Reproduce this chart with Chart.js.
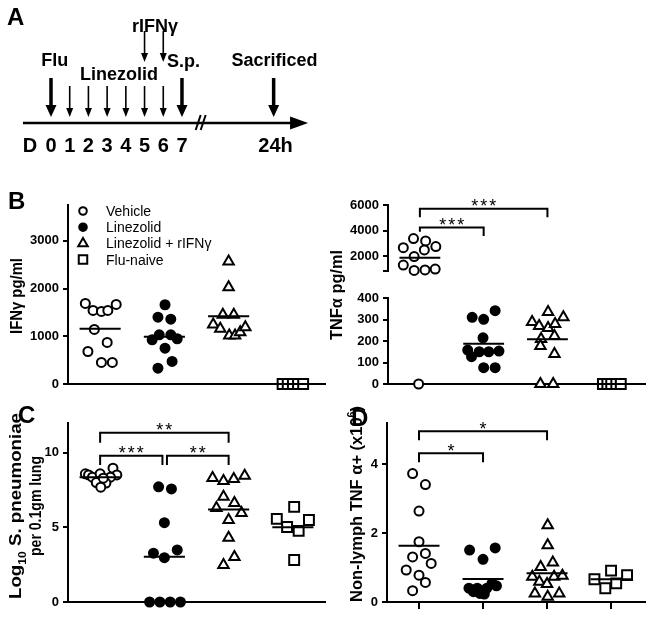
<!DOCTYPE html>
<html>
<head>
<meta charset="utf-8">
<script src="https://cdn.jsdelivr.net/npm/chart.js"></script>
<style>
  html, body { margin: 0; padding: 0; background: #fff; }
  #fig { position: relative; width: 649px; height: 617px; overflow: hidden; }
  #fig canvas { position: absolute; }
  .tag { position: absolute; font: bold 24px "Liberation Sans", Arial, sans-serif; line-height: 24px; color: #000; }
</style>
</head>
<body>
<div id="fig">
  <canvas id="panelA" width="330" height="175" style="left:0;top:0"></canvas>
  <canvas id="ifn" width="330" height="215" style="left:0;top:185px"></canvas>
  <canvas id="tnfTop" width="329" height="110" style="left:320px;top:185px"></canvas>
  <canvas id="tnfBottom" width="329" height="160" style="left:320px;top:240px"></canvas>
  <canvas id="cfu" width="330" height="217" style="left:0;top:400px"></canvas>
  <canvas id="nonLymph" width="329" height="217" style="left:320px;top:400px"></canvas>
  <div class="tag" style="left:7px;top:5px">A</div>
  <div class="tag" style="left:8px;top:189px">B</div>
  <div class="tag" style="left:18px;top:403px">C</div>
  <div class="tag" style="left:351px;top:406px">D</div>
</div>
<script>
const FAMILY = '"Liberation Sans", Arial, sans-serif'
const groups = ['Vehicle', 'Linezolid', 'Linezolid + rIFNγ', 'Flu-naive']

// A: timeline (days)
const dayTicks = [0, 1, 2, 3, 4, 5, 6, 7]
const fluDay = 0
const linezolidDays = [1, 2, 3, 4, 5, 6]
const rifnDays = [5, 6]
const spDay = 7
const sacrificeDay = 11.9
const breakDay = 8

// B: IFNγ pg/ml
const ifnVehicle = [1688, 1541, 1520, 1541, 1667, 1143, 870, 681, 451, 451]
const ifnLinezolid = [1660, 1400, 1358, 927, 1031, 1031, 948, 751, 472, 331]
const ifnLzdIfn = [2568, 2029, 1451, 1451, 1247, 1157, 1017, 1017, 1086, 1191]
const ifnNaive = [0, 0, 0, 0, 0]
const ifnTicks = [0, 1000, 2000, 3000]

// B: TNFα pg/ml (broken axis)
const tnfVehicle = [3380, 3200, 2667, 2760, 2493, 1980, 1313, 893, 933, 1000, 0]
const tnfLinezolid = [310, 301, 341, 215, 158, 127, 150, 150, 153, 76, 76]
const tnfLzdIfn = [335, 288, 310, 270, 260, 279, 223, 209, 177, 140, 0, 0]
const tnfNaive = [0, 0, 0, 0, 0]
const tnfTopTicks = [850, 2000, 4000, 6000]
const tnfBottomTicks = [0, 100, 200, 300, 400]

// C: Log10 S. pneumoniae per 0.1gm lung
const cfuVehicle = [8.59, 8.52, 8.37, 8.59, 8.97, 8.52, 8.37, 8.01, 7.97, 7.70, 8.30]
const cfuLinezolid = [7.72, 7.58, 5.32, 3.27, 2.97, 3.49, 0, 0, 0, 0]
const cfuLzdIfn = [8.32, 8.12, 8.25, 8.46, 7.05, 6.64, 6.31, 5.97, 5.50, 4.30, 3.02, 2.48]
const cfuNaive = [6.38, 5.57, 5.03, 4.77, 5.50, 2.82]
const cfuTicks = [0, 5, 10]

// D: Non-lymph TNFα+ (x10^6)
const nlVehicle = [3.73, 3.41, 2.64, 1.75, 1.31, 1.41, 1.12, 0.93, 0.78, 0.57, 0.33]
const nlLinezolid = [1.51, 1.57, 1.24, 0.40, 0.30, 0.25, 0.40, 0.54, 0.47, 0.23, 0.40]
const nlLzdIfn = [2.23, 1.65, 1.15, 1.02, 0.73, 0.73, 0.76, 0.59, 0.52, 0.25, 0.15, 0.25]
const nlNaive = [0.91, 0.66, 0.78, 0.54, 0.40]
const nlTicks = [0, 2, 4]

// horizontal scatter of the dots inside each group (fraction of a group slot)
const ifnVehicleJit = [-0.23, -0.11, 0.02, 0.12, 0.25, -0.09, 0.11, -0.19, 0.02, 0.19]
const ifnLinezolidJit = [0.01, -0.10, 0.10, -0.19, -0.08, 0.10, 0.20, 0.01, 0.12, -0.10]
const ifnLzdIfnJit = [0, 0, -0.09, 0.08, -0.24, -0.13, 0.01, 0.10, 0.18, 0.26]
const ifnNaiveJit = [-0.16, -0.08, 0, 0.08, 0.16]
const tnfVehicleJit = [-0.1, 0.09, -0.26, 0.25, 0.07, -0.09, -0.26, -0.09, 0.08, 0.24, -0.02]
const tnfLinezolidJit = [-0.18, 0, 0.18, -0.01, -0.25, -0.19, -0.07, 0.08, 0.24, 0, 0.18]
const tnfLzdIfnJit = [0.01, -0.24, 0.25, -0.13, 0.01, 0.12, 0.11, -0.1, -0.11, 0.11, -0.11, 0.09]
const tnfNaiveJit = [-0.13, -0.06, 0, 0.08, 0.15]
const cfuVehicleJit = [-0.23, -0.18, -0.12, 0, 0.2, 0.26, 0.16, -0.06, 0.09, 0.01, 0.05]
const cfuLinezolidJit = [-0.09, 0.11, 0, -0.17, 0, 0.2, -0.23, -0.07, 0.09, 0.25]
const cfuLzdIfnJit = [-0.25, -0.08, 0.08, 0.25, -0.08, 0.09, -0.19, 0.2, 0, 0, 0.09, -0.08]
const cfuNaiveJit = [0.02, -0.25, -0.09, 0.09, 0.25, 0.02]
const nlVehicleJit = [-0.1, 0.1, 0, 0, -0.1, 0.1, 0.19, -0.2, 0, 0.1, -0.1]
const nlLinezolidJit = [-0.21, 0.19, 0, -0.22, -0.15, -0.05, 0.06, 0.14, 0.21, 0.02, -0.09]
const nlLzdIfnJit = [0.01, 0.01, 0.09, -0.1, -0.23, 0.11, 0.24, -0.12, 0, -0.19, 0.01, 0.19]
const nlNaiveJit = [0, -0.26, 0.25, 0.08, -0.09]

// significance brackets (group positions, y in data units)
const tnfBrackets = [
    { from: 1, to: 3, y: 5713, legFrom: 5047, legTo: 5047, stars: 3 },
    { from: 1, to: 2, y: 4247, legFrom: 3913, legTo: 3580, stars: 3 }
]
const cfuBrackets = [
    { from: 1, to: 3, y: 11.34, legFrom: 10.67, legTo: 10.67, stars: 2 },
    { from: 1, to: 1.97, y: 9.8, legFrom: 9.19, legTo: 9.19, stars: 3 },
    { from: 2.04, to: 3, y: 9.8, legFrom: 9.19, legTo: 9.19, stars: 2 }
]
const nlBrackets = [
    { from: 1, to: 3, y: 4.96, legFrom: 4.7, legTo: 4.7, stars: 1 },
    { from: 1, to: 2, y: 4.32, legFrom: 4.06, legTo: 4.06, stars: 1 }
]

const markStyles = [
    { shape: 'circle', r: 4.5, fill: '#fff' },
    { shape: 'circle', r: 4.5, fill: '#000' },
    { shape: 'triangle', r: 6, fill: '#fff' },
    { shape: 'rect', r: 7, fill: '#fff' }
]

const mean = a => a.reduce((s, v) => s + v, 0) / a.length

function lineSet(points) {
    return {
        data: points, showLine: true, pointRadius: 0, pointHoverRadius: 0,
        borderColor: '#000', borderWidth: 2, fill: false, tension: 0, clip: false
    }
}

function drawMark(ctx, st, x, y, r) {
    ctx.beginPath()
    if (st.shape === 'circle') {
        ctx.arc(x, y, r, 0, Math.PI * 2)
    } else if (st.shape === 'triangle') {
        for (let k = 0; k < 3; k++) {
            const a = k * 2 * Math.PI / 3
            ctx[k ? 'lineTo' : 'moveTo'](x + Math.sin(a) * r, y - Math.cos(a) * r)
        }
        ctx.closePath()
    } else {
        const s = Math.SQRT1_2 * r
        ctx.rect(x - s, y - s, 2 * s, 2 * s)
    }
    ctx.fillStyle = st.fill
    ctx.fill()
    ctx.lineWidth = 2
    ctx.strokeStyle = '#000'
    ctx.stroke()
}

function rotatedText(ctx, cx, cy, parts, size, length) {
    ctx.save()
    ctx.translate(cx, cy)
    ctx.rotate(-Math.PI / 2)
    const fonts = parts.map(p => 'bold ' + Math.round(p.sub || p.sup ? size * 0.65 : size) + 'px ' + FAMILY)
    let total = 0
    const widths = parts.map((p, i) => {
        ctx.font = fonts[i]
        const w = ctx.measureText(p.t).width
        total += w
        return w
    })
    ctx.scale(length ? length / total : 1, 1)
    ctx.fillStyle = '#000'
    ctx.textAlign = 'left'
    ctx.textBaseline = 'alphabetic'
    let x = -total / 2
    parts.forEach((p, i) => {
        ctx.font = fonts[i]
        const dy = p.sub ? size * 0.3 : p.sup ? -size * 0.42 : 0
        ctx.fillText(p.t, x, size * 0.36 + dy)
        x += widths[i]
    })
    ctx.restore()
}

function drawStars(chart, brackets) {
    const { ctx, scales: { x, y } } = chart
    ctx.save()
    ctx.fillStyle = '#000'
    ctx.font = '18px ' + FAMILY
    ctx.textAlign = 'center'
    ctx.textBaseline = 'alphabetic'
    brackets.forEach(b => {
        const cx = x.getPixelForValue((b.from + b.to) / 2)
        const base = y.getPixelForValue(b.y) + 3.5
        for (let k = 0; k < b.stars; k++) {
            ctx.fillText('*', cx + (k - (b.stars - 1) / 2) * 9, base)
        }
    })
    ctx.restore()
}

function dotChart(id, cfg) {
    const canvas = document.getElementById(id)
    const w = canvas.width, h = canvas.height, a = cfg.area
    const keep = cfg.keep || (() => true)
    const datasets = []
    cfg.series.forEach((s, g) => {
        const m = mean(s.values)
        if (keep(m)) datasets.push(lineSet([{ x: g + 1 - 0.32, y: m }, { x: g + 1 + 0.32, y: m }]))
    })
    ;(cfg.brackets || []).forEach(b => datasets.push(lineSet([
        { x: b.from, y: b.legFrom }, { x: b.from, y: b.y },
        { x: b.to, y: b.y }, { x: b.to, y: b.legTo }
    ])))
    cfg.series.forEach((s, g) => {
        const st = markStyles[g]
        const pts = []
        s.values.forEach((v, i) => { if (keep(v)) pts.push({ x: g + 1 + s.jitter[i], y: v }) })
        datasets.push({
            label: groups[g], data: pts, pointStyle: st.shape,
            pointRadius: st.r, pointHoverRadius: st.r,
            backgroundColor: st.fill, borderColor: '#000', borderWidth: 2, clip: false
        })
    })
    const showX = cfg.xAxis !== false
    return new Chart(canvas, {
        type: 'scatter',
        data: { datasets },
        options: {
            responsive: false,
            animation: false,
            devicePixelRatio: 1,
            events: [],
            layout: {
                autoPadding: false,
                padding: { left: 0, top: a.top, right: w - a.right, bottom: showX ? 0 : h - a.bottom }
            },
            plugins: { legend: { display: false }, tooltip: { enabled: false } },
            scales: {
                x: {
                    type: 'linear', min: 0.5, max: cfg.xMax || 4.5,
                    display: showX,
                    border: { display: true, width: 2, color: '#000' },
                    grid: { display: !!cfg.xTicks, drawOnChartArea: false, tickLength: 7, lineWidth: 2, color: '#000' },
                    ticks: { display: false },
                    afterBuildTicks: s => { s.ticks = [1, 2, 3, 4].map(v => ({ value: v })) },
                    afterFit: s => { s.height = h - a.bottom }
                },
                y: {
                    type: 'linear', min: cfg.yMin, max: cfg.yMax,
                    border: { display: true, width: 2, color: '#000' },
                    grid: { drawOnChartArea: false, tickLength: 5, lineWidth: 2, color: '#000' },
                    ticks: {
                        color: '#000', padding: 4,
                        font: { family: FAMILY, size: 13, weight: 'bold' },
                        callback: cfg.tickLabel || (v => String(v))
                    },
                    afterBuildTicks: s => { s.ticks = cfg.yTicks.map(v => ({ value: v })) },
                    afterFit: s => { s.width = a.left }
                }
            }
        },
        plugins: [{ id: 'deco', afterDraw: ch => cfg.deco && cfg.deco(ch) }]
    })
}

// ---------- panel A ----------
function vArrow(ctx, px, top, tip, lw, hw, hl) {
    ctx.lineWidth = lw
    ctx.beginPath()
    ctx.moveTo(px, top)
    ctx.lineTo(px, tip - hl + 1)
    ctx.stroke()
    ctx.beginPath()
    ctx.moveTo(px - hw / 2, tip - hl)
    ctx.lineTo(px + hw / 2, tip - hl)
    ctx.lineTo(px, tip)
    ctx.closePath()
    ctx.fill()
}

function boldText(ctx, text, x, yCenter, size) {
    ctx.font = 'bold ' + size + 'px ' + FAMILY
    ctx.textAlign = 'center'
    ctx.textBaseline = 'alphabetic'
    ctx.fillText(text, x, yCenter + size * 0.36)
}

function drawTimeline(chart) {
    const { ctx, scales: { x, y } } = chart
    const X = d => x.getPixelForValue(d)
    const Y = v => y.getPixelForValue(v)
    ctx.save()
    ctx.fillStyle = '#000'
    ctx.strokeStyle = '#000'
    ctx.lineCap = 'butt'

    // time axis with arrow head
    const y0 = Y(0), x1 = X(-1.5), tip = X(13.74)
    ctx.lineWidth = 2.5
    ctx.beginPath(); ctx.moveTo(x1, y0); ctx.lineTo(tip - 16, y0); ctx.stroke()
    ctx.beginPath(); ctx.moveTo(tip - 18, y0 - 6.5); ctx.lineTo(tip, y0); ctx.lineTo(tip - 18, y0 + 6.5); ctx.closePath(); ctx.fill()

    // axis break
    const bx = X(breakDay)
    ctx.lineWidth = 2
    ;[-2.5, 2.5].forEach(o => {
        ctx.beginPath(); ctx.moveTo(bx + o - 2.5, y0 + 7); ctx.lineTo(bx + o + 2.5, y0 - 8); ctx.stroke()
    })

    // arrows
    ;[fluDay, spDay, sacrificeDay].forEach(d => vArrow(ctx, X(d), Y(4.5), Y(0.6), 3.5, 11, 12))
    linezolidDays.forEach(d => vArrow(ctx, X(d), Y(3.7), Y(0.6), 1.6, 7, 9))
    rifnDays.forEach(d => vArrow(ctx, X(d), Y(9.2), Y(6.1), 1.6, 7, 9))

    // labels
    boldText(ctx, 'Flu', X(0.2), Y(6.3), 18)
    boldText(ctx, 'Linezolid', X(3.63), Y(4.95), 18)
    boldText(ctx, 'rIFNγ', X(5.56), Y(9.75), 18)
    boldText(ctx, 'S.p.', X(7.08), Y(6.2), 18)
    boldText(ctx, 'Sacrificed', X(11.95), Y(6.35), 18)
    boldText(ctx, 'D', X(-1.12), Y(-2.15), 20)
    dayTicks.forEach(d => boldText(ctx, String(d), X(d), Y(-2.15), 20))
    boldText(ctx, '24h', X(sacrificeDay + 0.1), Y(-2.15), 20)
    ctx.restore()
}

new Chart(document.getElementById('panelA'), {
    type: 'scatter',
    data: { datasets: [] },
    options: {
        responsive: false,
        animation: false,
        devicePixelRatio: 1,
        events: [],
        layout: { padding: 0, autoPadding: false },
        plugins: { legend: { display: false }, tooltip: { enabled: false } },
        scales: {
            x: { type: 'linear', display: false, min: -2.726, max: 14.912 },
            y: { type: 'linear', display: false, min: -5.2, max: 12.3 }
        }
    },
    plugins: [{ id: 'timeline', afterDraw: drawTimeline }]
})

// ---------- panel B left: IFNγ ----------
dotChart('ifn', {
    area: { left: 68, top: 20, right: 325, bottom: 199 },
    yMin: 0, yMax: 3750, yTicks: ifnTicks,
    series: [
        { values: ifnVehicle, jitter: ifnVehicleJit },
        { values: ifnLinezolid, jitter: ifnLinezolidJit },
        { values: ifnLzdIfn, jitter: ifnLzdIfnJit },
        { values: ifnNaive, jitter: ifnNaiveJit }
    ],
    deco: ch => {
        const ctx = ch.ctx
        const legendR = [3.8, 3.8, 5.5, 6]
        ctx.save()
        groups.forEach((name, i) => {
            const ly = ch.chartArea.top + 6 + i * 16.2
            drawMark(ctx, markStyles[i], 83, ly, legendR[i])
            ctx.fillStyle = '#000'
            ctx.font = '14px ' + FAMILY
            ctx.textAlign = 'left'
            ctx.textBaseline = 'alphabetic'
            ctx.fillText(name, 106, ly + 5)
        })
        ctx.restore()
        rotatedText(ctx, 16, 111, [{ t: 'IFNγ pg/ml' }], 17, 76)
    }
})

// ---------- panel B right: TNFα (two segments) ----------
const tnfSeries = [
    { values: tnfVehicle, jitter: tnfVehicleJit },
    { values: tnfLinezolid, jitter: tnfLinezolidJit },
    { values: tnfLzdIfn, jitter: tnfLzdIfnJit },
    { values: tnfNaive, jitter: tnfNaiveJit }
]
dotChart('tnfTop', {
    area: { left: 68, top: 20, right: 325, bottom: 98 },
    xAxis: false, xMax: 4.53,
    yMin: 850, yMax: 6000, yTicks: tnfTopTicks,
    tickLabel: v => v === 850 ? '' : String(v),
    keep: v => v >= 850,
    series: tnfSeries,
    brackets: tnfBrackets,
    deco: ch => drawStars(ch, tnfBrackets)
})
dotChart('tnfBottom', {
    area: { left: 68, top: 58, right: 325, bottom: 144 },
    xMax: 4.53,
    yMin: 0, yMax: 400, yTicks: tnfBottomTicks,
    keep: v => v <= 400,
    series: tnfSeries,
    deco: ch => rotatedText(ch.ctx, 16, 55, [{ t: 'TNFα pg/ml' }], 17, 90)
})

// ---------- panel C ----------
dotChart('cfu', {
    area: { left: 68, top: 23, right: 325, bottom: 202 },
    yMin: 0, yMax: 12, yTicks: cfuTicks,
    series: [
        { values: cfuVehicle, jitter: cfuVehicleJit },
        { values: cfuLinezolid, jitter: cfuLinezolidJit },
        { values: cfuLzdIfn, jitter: cfuLzdIfnJit },
        { values: cfuNaive, jitter: cfuNaiveJit }
    ],
    brackets: cfuBrackets,
    deco: ch => {
        drawStars(ch, cfuBrackets)
        rotatedText(ch.ctx, 15, 106, [{ t: 'Log' }, { t: '10', sub: true }, { t: ' S. pneumoniae' }], 17, 186)
        rotatedText(ch.ctx, 35, 106, [{ t: 'per 0.1gm lung' }], 17, 100)
    }
})

// ---------- panel D ----------
dotChart('nonLymph', {
    area: { left: 67, top: 23, right: 325, bottom: 202 },
    xMax: 4.53, xTicks: true,
    yMin: 0, yMax: 5.2, yTicks: nlTicks,
    series: [
        { values: nlVehicle, jitter: nlVehicleJit },
        { values: nlLinezolid, jitter: nlLinezolidJit },
        { values: nlLzdIfn, jitter: nlLzdIfnJit },
        { values: nlNaive, jitter: nlNaiveJit }
    ],
    brackets: nlBrackets,
    deco: ch => {
        drawStars(ch, nlBrackets)
        rotatedText(ch.ctx, 36, 104, [{ t: 'Non-lymph TNF α+ (x10' }, { t: '6', sup: true }, { t: ')' }], 17, 196)
    }
})
</script>
</body>
</html>
